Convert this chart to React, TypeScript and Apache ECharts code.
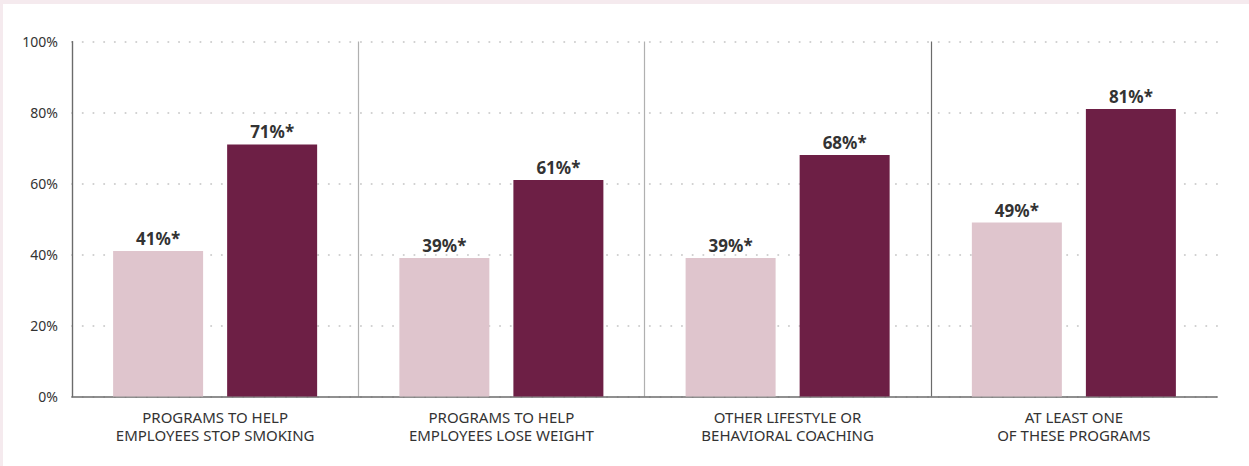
import React, { useEffect, useRef } from "react";
import * as echarts from "echarts";

const categories = [
  "PROGRAMS TO HELP\nEMPLOYEES STOP SMOKING",
  "PROGRAMS TO HELP\nEMPLOYEES LOSE WEIGHT",
  "OTHER LIFESTYLE OR\nBEHAVIORAL COACHING",
  "AT LEAST ONE\nOF THESE PROGRAMS",
];
const seriesLight = [41, 39, 39, 49];
const seriesDark = [71, 61, 68, 81];
const valueSuffix = "%*";

const FONT = "'Noto Sans', 'Open Sans', sans-serif";

export default function App() {
  const ref = useRef<HTMLDivElement>(null);
  useEffect(() => {
    document.body.style.margin = "0";
    const chart = echarts.init(ref.current!, null, { renderer: "svg" });
    const labelCfg = {
      show: true,
      position: "top",
      distance: 4,
      formatter: (p: any) => `${p.value}${valueSuffix}`,
      fontFamily: FONT,
      fontWeight: "bold",
      fontSize: 17,
      color: "#333333",
    };
    chart.setOption({
      animation: false,
      backgroundColor: "#ffffff",
      grid: { left: 69, right: 32, top: 37.5, bottom: 69.5, containLabel: false },
      xAxis: {
        type: "category",
        data: categories,
        axisLine: { show: true, lineStyle: { color: "#6b6b6b", width: 1.5 } },
        axisTick: { show: false },
        axisLabel: {
          fontFamily: FONT,
          fontSize: 15,
          color: "#333333",
          margin: 11,
          lineHeight: 18,
          interval: 0,
        },
        splitLine: {
          show: true,
          interval: 0,
          lineStyle: {
            color: ["#6b6b6b", "#b0b0b0", "#b0b0b0", "#6b6b6b", "rgba(0,0,0,0)"],
            width: 1.2,
          },
        },
      },
      yAxis: {
        type: "value",
        min: 0,
        max: 100,
        interval: 20,
        axisLine: { show: true, lineStyle: { color: "#6b6b6b", width: 1.2 } },
        axisTick: { show: false },
        axisLabel: {
          formatter: "{value}%",
          fontFamily: FONT,
          fontSize: 14,
          color: "#333333",
          margin: 14,
        },
        splitLine: {
          show: true,
          lineStyle: { color: "#cfcfcf", width: 2, type: [0.1, 10.6], cap: "round" },
        },
      },
      series: [
        {
          type: "bar",
          data: seriesLight,
          barWidth: 90,
          barGap: "26.7%",
          itemStyle: { color: "#dfc5cd" },
          label: labelCfg,
        },
        {
          type: "bar",
          data: seriesDark,
          barWidth: 90,
          itemStyle: { color: "#6d1f45" },
          label: labelCfg,
        },
      ],
    });
    return () => chart.dispose();
  }, []);
  return (
    <div style={{ position: "relative", width: 1249, height: 466, background: "#f5eaee" }}>
      <div
        ref={ref}
        style={{ position: "absolute", left: 3, top: 4, width: 1246, height: 462, background: "#ffffff" }}
      />
    </div>
  );
}
